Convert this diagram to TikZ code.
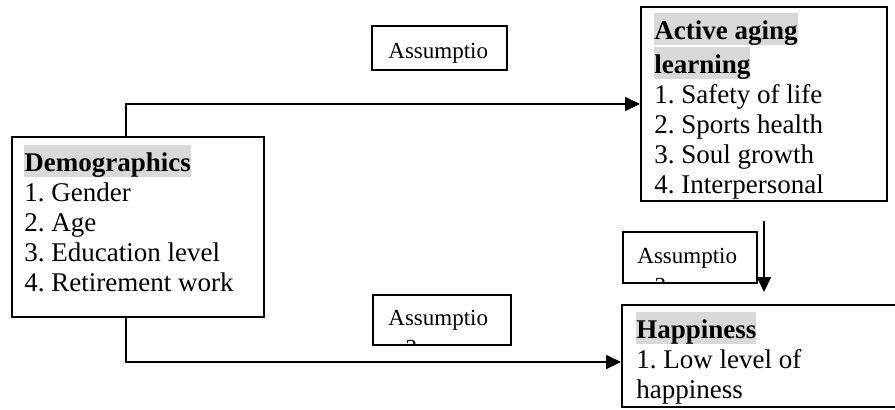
\documentclass[tikz,border=0pt]{standalone}
\usepackage{fontspec}
\setmainfont{Liberation Serif}
\usetikzlibrary{arrows.meta,calc}

\definecolor{hlgray}{RGB}{217,217,217}
\newcommand\hl[1]{{\setlength\fboxsep{0pt}\colorbox{hlgray}{\rule[-2pt]{0pt}{15pt}#1}}}

\tikzset{
    box/.style={draw, line width=1pt, inner sep=0pt},
    boxtext/.style={anchor=north west, align=left, inner sep=0pt, font=\fontsize{13.5}{15}\selectfont},
    asmtext/.style={anchor=base west, align=left, inner sep=0pt, font=\fontsize{11.5}{15}\selectfont},
    conn/.style={line width=1pt, -{Triangle[length=7.5pt,width=7pt]}}
}

\begin{document}
\frenchspacing
\begin{tikzpicture}[x=0.5pt,y=-0.5pt]
            \useasboundingbox (0,0) rectangle (895,409);

            % main boxes
            \node[box, minimum width=126pt, minimum height=90pt] (demo) at (138,227) {};
            \node[box, minimum width=123pt, minimum height=97pt] (act) at (764,104) {};
            \node[box, minimum width=141.5pt, minimum height=51pt] (hap) at (763.5,356) {};

            \node[boxtext] (demotext) at (24,145) {\hl{\textbf{Demographics}}\\1. Gender\\2. Age\\3. Education level\\4. Retirement work};
            \node[boxtext] (acttext) at (654,13) {\hl{\textbf{Active aging}}\\\hl{\textbf{learning}}\\1. Safety of life\\2. Sports health\\3. Soul growth\\4. Interpersonal};
            \node[boxtext] (haptext) at (636,312) {\hl{\textbf{Happiness}}\\1. Low level of\\happiness};

            % assumption boxes (second line runs under the frame)
            \node[box, minimum width=67.5pt, minimum height=22pt] (asm1) at (439.5,48) {};
            \node[box, minimum width=69pt, minimum height=25pt] (asm2) at (442,320) {};
            \node[box, minimum width=67pt, minimum height=25.5pt] (asm3) at (690,257.5) {};

            \foreach \n/\x/\y in {1/388/88, 2/388/355, 3/637/293}{
                    \begin{scope}
                        \clip ([shift={(0.5pt,0.5pt)}]asm\n.south west) rectangle ([shift={(-0.5pt,-0.5pt)}]asm\n.north east);
                        \node[asmtext] (asmtext\n) at (\x,\y) {Assumptio\\n \n};
                    \end{scope}
                }

            % connectors
            \draw[conn] ([xshift=-6pt]demo.north) |- (act.west);
            \draw[conn] ([xshift=-6pt]demo.south) |- ([yshift=-3pt]hap.west);
            \draw[conn, shorten <=9.5pt, shorten >=6pt] (act.south) -- (act.south |- hap.north);
        \end{tikzpicture}
\end{document}
